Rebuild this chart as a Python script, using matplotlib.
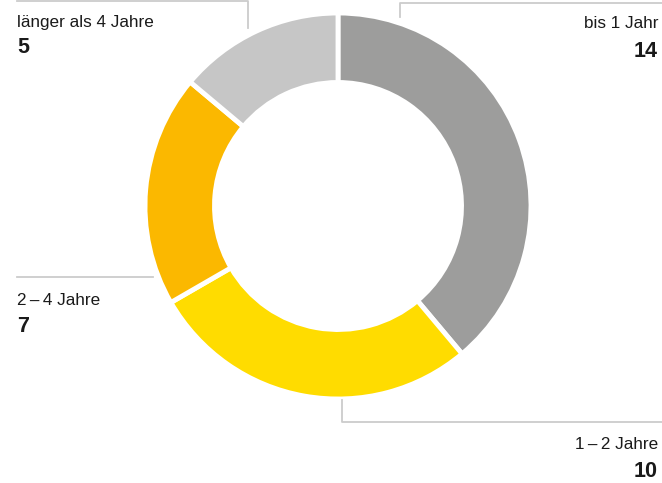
import matplotlib.pyplot as plt

# data
labels = ["bis 1 Jahr", "1\u2009\u2013\u20092 Jahre", "2\u2009\u2013\u20094 Jahre", "länger als 4 Jahre"]
values = [14, 10, 7, 5]
colors = ["#9d9d9c", "#ffdc00", "#fbb800", "#c6c6c6"]

plt.rcParams['font.family'] = ['Liberation Sans', 'DejaVu Sans']

W, H = 662, 483
fig = plt.figure(figsize=(W / 100, H / 100), dpi=100)
ax = fig.add_axes([0, 0, 1, 1])

# donut (y axis inverted, so counterclock=True draws clockwise on screen)
cx, cy, r = 338, 206, 193
ax.pie(values, colors=colors, startangle=-90, counterclock=True,
       center=(cx, cy), radius=r, frame=True,
       wedgeprops=dict(width=r * 0.36, edgecolor='white', linewidth=3.5))
ax.set_xlim(0, W)
ax.set_ylim(H, 0)
ax.set_aspect('equal')
ax.axis('off')

# leader lines
lc = "#cccccc"
lw = 1.3
ax.plot([17, 248, 248], [1, 1, 28], color=lc, lw=lw, clip_on=False)
ax.plot([400, 400, 662], [17, 3, 3], color=lc, lw=lw, clip_on=False)
ax.plot([17, 153], [277, 277], color=lc, lw=lw)
ax.plot([342, 342, 662], [400, 422, 422], color=lc, lw=lw, clip_on=False)

# labels
lab_fs, num_fs = 12.3, 15.5
tc = "#1a1a1a"
pos = [(658, 28, 57, 'right'), (658, 449, 477, 'right'),
       (17, 305, 332, 'left'), (17, 27, 53, 'left')]
for lab, val, (x, y1, y2, ha) in zip(labels, values, pos):
    ax.text(x, y1, lab, fontsize=lab_fs, ha=ha, va='baseline', color=tc)
    ax.text(x, y2, str(val), fontsize=num_fs, fontweight='bold', ha=ha,
            va='baseline', color=tc)

fig.savefig("out.png", dpi=100)
